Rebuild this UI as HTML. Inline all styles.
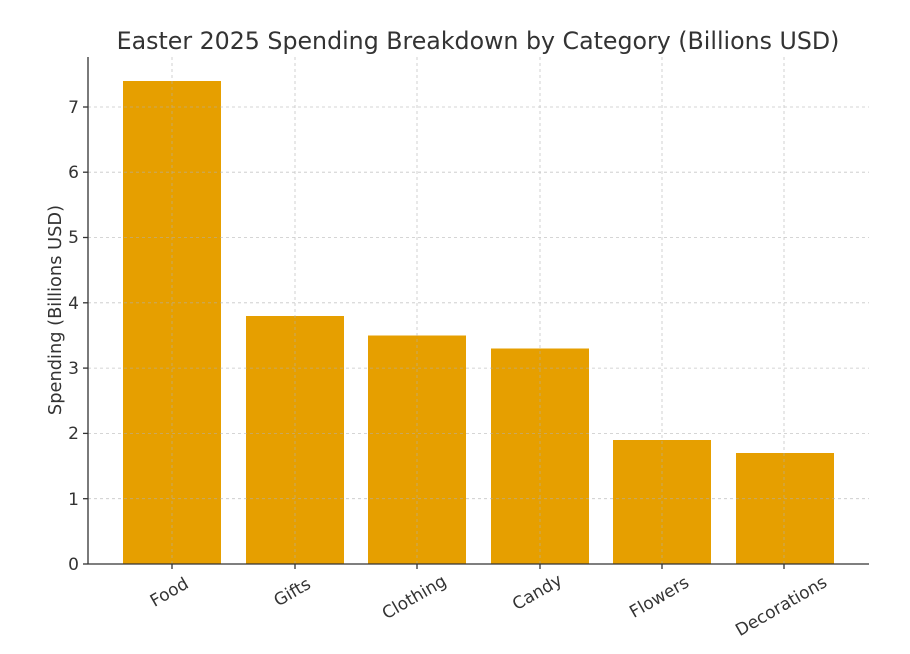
<!DOCTYPE html>
<html><head><meta charset="utf-8"><style>body{margin:0;background:#fff}svg{display:block}text{font-family:"DejaVu Sans","Liberation Sans",sans-serif;fill:#333}</style></head>
<body>
<svg width="910" height="654" viewBox="0 0 910 654" xmlns="http://www.w3.org/2000/svg">
<rect width="910" height="654" fill="#fff"/>
<text x="478" y="49" font-size="23.7" text-anchor="middle" fill="#444">Easter 2025 Spending Breakdown by Category (Billions USD)</text>
<g fill="#E69F00">
<rect x="123" y="81" width="98" height="483"/>
<rect x="246" y="316" width="98" height="248"/>
<rect x="368" y="335.5" width="98" height="228.5"/>
<rect x="491" y="348.5" width="98" height="215.5"/>
<rect x="613" y="440" width="98" height="124"/>
<rect x="736" y="453" width="98" height="111"/>
</g>
<g stroke="#b0b0b0" stroke-width="0.8" stroke-dasharray="3,3" opacity="0.7">
<line x1="88" x2="869" y1="498.7" y2="498.7"/><line x1="88" x2="869" y1="433.4" y2="433.4"/>
<line x1="88" x2="869" y1="368.1" y2="368.1"/><line x1="88" x2="869" y1="302.8" y2="302.8"/>
<line x1="88" x2="869" y1="237.5" y2="237.5"/><line x1="88" x2="869" y1="172.2" y2="172.2"/>
<line x1="88" x2="869" y1="107" y2="107"/>
<line x1="172" x2="172" y1="57" y2="564"/><line x1="295" x2="295" y1="57" y2="564"/>
<line x1="417" x2="417" y1="57" y2="564"/><line x1="540" x2="540" y1="57" y2="564"/>
<line x1="662" x2="662" y1="57" y2="564"/><line x1="784" x2="784" y1="57" y2="564"/>
</g>
<g stroke="#333" stroke-width="1.3">
<line x1="88" y1="57" x2="88" y2="564"/><line x1="88" y1="564" x2="869" y2="564"/>
<line x1="83" x2="88" y1="564" y2="564"/><line x1="83" x2="88" y1="498.7" y2="498.7"/><line x1="83" x2="88" y1="433.4" y2="433.4"/><line x1="83" x2="88" y1="368.1" y2="368.1"/><line x1="83" x2="88" y1="302.8" y2="302.8"/><line x1="83" x2="88" y1="237.5" y2="237.5"/><line x1="83" x2="88" y1="172.2" y2="172.2"/><line x1="83" x2="88" y1="107" y2="107"/>
<line x1="172" x2="172" y1="564" y2="569"/><line x1="295" x2="295" y1="564" y2="569"/><line x1="417" x2="417" y1="564" y2="569"/><line x1="540" x2="540" y1="564" y2="569"/><line x1="662" x2="662" y1="564" y2="569"/><line x1="784" x2="784" y1="564" y2="569"/>
</g>
<g font-size="17" text-anchor="end">
<text x="79" y="570">0</text><text x="79" y="505">1</text><text x="79" y="439">2</text><text x="79" y="374">3</text><text x="79" y="309">4</text><text x="79" y="243">5</text><text x="79" y="178">6</text><text x="79" y="113">7</text>
</g>
<text transform="translate(61,310) rotate(-90)" font-size="17.8" text-anchor="middle">Spending (Billions USD)</text>
<g font-size="17" text-anchor="middle">
<text transform="translate(172,597) rotate(-30)">Food</text>
<text transform="translate(295,597) rotate(-30)">Gifts</text>
<text transform="translate(417,602) rotate(-30)">Clothing</text>
<text transform="translate(540,597) rotate(-30)">Candy</text>
<text transform="translate(662,602) rotate(-30)">Flowers</text>
<text transform="translate(784,611) rotate(-30)">Decorations</text>
</g>
</svg>
</body></html>
